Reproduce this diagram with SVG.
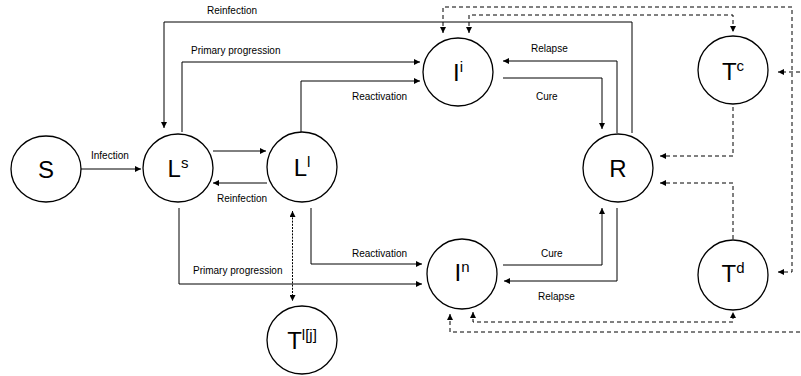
<svg xmlns="http://www.w3.org/2000/svg" width="801" height="376" viewBox="0 0 801 376">
<defs>
<marker id="ah" viewBox="0 0 6 6" refX="6" refY="3" markerWidth="6" markerHeight="6" markerUnits="userSpaceOnUse" orient="auto-start-reverse">
<path d="M0,0 L6,3 L0,6 z" fill="#000"/>
</marker>
<style>
.node ellipse{fill:#fff;stroke:#000;stroke-width:1.3}
.node text{font-family:"Liberation Sans",Arial,sans-serif;font-size:24px;text-anchor:middle;fill:#000}
.sup{font-size:15px}
.c{fill:none;stroke:#000;stroke-width:1}
.solid{marker-end:url(#ah)}
.dash{stroke-dasharray:4 3;marker-end:url(#ah)}
.both{marker-start:url(#ah)}
.dot{stroke-dasharray:2 1.2;marker-end:url(#ah);marker-start:url(#ah)}
.lbl{font-family:"Liberation Sans",Arial,sans-serif;font-size:10px;fill:#000}
</style>
</defs>
<rect width="801" height="376" fill="#fff"/>
<g id="connectors">
<path class="c solid" d="M81 169 H141"/>
<path class="c solid" d="M213 151 H266"/>
<path class="c solid" d="M267 183 H213"/>
<path class="c solid" d="M632 133 V22 H164 V128"/>
<path class="c solid" d="M182 132 V62 H420"/>
<path class="c solid" d="M301 132 V81 H420"/>
<path class="c solid" d="M617 133 V61 H503"/>
<path class="c solid" d="M503 78 H602 V129"/>
<path class="c solid" d="M179 208 V284 H422"/>
<path class="c solid" d="M311 208 V264 H422"/>
<path class="c solid" d="M503 265 H602 V208"/>
<path class="c solid" d="M617 208 V281 H504"/>
<path class="c dash both" d="M443 33 V7 H792 V272 H778"/>
<path class="c dash both" d="M469 33 V15 H733 V32"/>
<path class="c dash both" d="M473 312 V322 H733 V312"/>
<path class="c dash both" d="M450 314 V332 H815 V72 H778"/>
<path class="c dash" d="M733 107 V156 H660"/>
<path class="c dash" d="M733 239 V183 H660"/>
<path class="c dot" d="M292.5 211 V301"/>
<text class="lbl" x="207" y="14">Reinfection</text>
<text class="lbl" x="191" y="54">Primary progression</text>
<text class="lbl" x="352" y="100">Reactivation</text>
<text class="lbl" x="531" y="52">Relapse</text>
<text class="lbl" x="536" y="100">Cure</text>
<text class="lbl" x="91" y="159">Infection</text>
<text class="lbl" x="217" y="202">Reinfection</text>
<text class="lbl" x="352" y="257">Reactivation</text>
<text class="lbl" x="193" y="274">Primary progression</text>
<text class="lbl" x="541" y="257">Cure</text>
<text class="lbl" x="538" y="300">Relapse</text>
</g>
<g id="S" class="node"><ellipse cx="46" cy="169" rx="35" ry="33"/><text x="46" y="178">S</text></g>
<g id="Ls" class="node"><ellipse cx="178" cy="168" rx="35" ry="34"/><text x="178" y="177">L<tspan class="sup" dy="-9">s</tspan></text></g>
<g id="Ll" class="node"><ellipse cx="302" cy="167" rx="35" ry="35"/><text x="302" y="176">L<tspan class="sup" dy="-9">l</tspan></text></g>
<g id="Ii" class="node"><ellipse cx="458" cy="72" rx="35" ry="34"/><text x="458" y="81">I<tspan class="sup" dy="-9">i</tspan></text></g>
<g id="In" class="node"><ellipse cx="462" cy="274" rx="35" ry="35"/><text x="462" y="281">I<tspan class="sup" dy="-9">n</tspan></text></g>
<g id="R" class="node"><ellipse cx="618" cy="168" rx="35" ry="34"/><text x="618" y="177">R</text></g>
<g id="Tc" class="node"><ellipse cx="733" cy="70" rx="35" ry="34"/><text x="733" y="80">T<tspan class="sup" dy="-9">c</tspan></text></g>
<g id="Td" class="node"><ellipse cx="733" cy="275" rx="35" ry="35"/><text x="733" y="282">T<tspan class="sup" dy="-9">d</tspan></text></g>
<g id="Tlj" class="node"><ellipse cx="302" cy="340" rx="35" ry="34"/><text x="302" y="349">T<tspan class="sup" dy="-9">l[j]</tspan></text></g>
</svg>
